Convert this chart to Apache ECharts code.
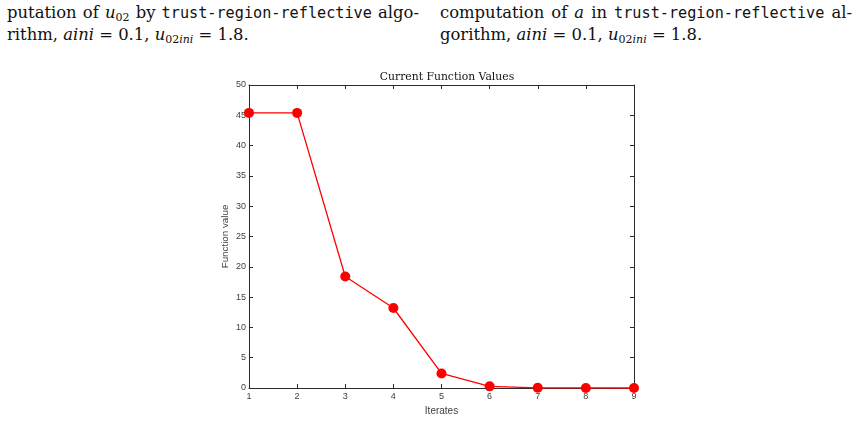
<!DOCTYPE html>
<html>
<head>
<meta charset="utf-8">
<script src="https://cdn.jsdelivr.net/npm/echarts@6/dist/echarts.min.js"></script>
<style>
  html, body { margin: 0; padding: 0; background: #fff; }
  .page { position: relative; width: 862px; height: 421px; overflow: hidden; }
  .col { position: absolute; top: 2px; width: 412px; font-family: "DejaVu Serif", "Liberation Serif", serif; font-size: 16.4px; line-height: 21px; color: #111; }
  .col .l1 { text-align: justify; text-align-last: justify; white-space: nowrap; }
  .col tt { font-family: "DejaVu Sans Mono", "Liberation Mono", monospace; font-size: 15.2px; }
  .col i { font-style: italic; }
  .col sub { font-size: 11px; vertical-align: -3px; line-height: 0; }
  #myEchart { position: absolute; left: 0; top: 0; width: 862px; height: 421px; }
</style>
</head>
<body>
<div class="page">
  <div class="col" style="left:7px;"><div class="l1">putation of <i>u</i><sub>02</sub> by <tt>trust-region-reflective</tt> algo-</div><div>rithm, <i>aini</i> = 0.1, <i>u</i><sub>02<i>ini</i></sub> = 1.8.</div></div>
  <div class="col" style="left:440px;"><div class="l1">computation of <i>a</i> in <tt>trust-region-reflective</tt> al-</div><div>gorithm, <i>aini</i> = 0.1, <i>u</i><sub>02<i>ini</i></sub> = 1.8.</div></div>
  <div id="myEchart"></div>
</div>
<script>
  // 数据
  var iterates = [1, 2, 3, 4, 5, 6, 7, 8, 9];
  var funcValues = [45.4, 45.4, 18.4, 13.2, 2.4, 0.27, 0.03, 0.01, 0.0];

  var myEchart = echarts.init(document.getElementById('myEchart'));

  var axisColor = '#2b2b2b';
  var labelColor = '#404040';

  var pts = iterates.map(function (x, i) { return [x, funcValues[i]]; });

  var option = {
    animation: false,
    backgroundColor: 'transparent',
    title: {
      text: 'Current Function Values',
      left: 442,
      top: 67,
      textAlign: 'center',
      textStyle: { fontFamily: 'DejaVu Serif', fontWeight: 'normal', fontSize: 10.8, color: '#111' }
    },
    grid: { left: 249, right: 228, top: 85, bottom: 33 },
    xAxis: [
      {
        type: 'value', min: 1, max: 9, interval: 1, position: 'bottom',
        name: 'Iterates', nameLocation: 'middle', nameGap: 18,
        nameTextStyle: { fontFamily: 'Liberation Sans', fontSize: 10, color: labelColor },
        axisLine: { onZero: false, lineStyle: { color: axisColor, width: 1 } },
        axisTick: { inside: true, length: 4, lineStyle: { color: axisColor } },
        axisLabel: { fontFamily: 'Liberation Sans', fontSize: 9, color: labelColor, margin: 4 },
        splitLine: { show: false }
      },
      {
        type: 'value', min: 1, max: 9, interval: 1, position: 'top',
        axisLine: { onZero: false, lineStyle: { color: axisColor, width: 1 } },
        axisTick: { inside: true, length: 4, lineStyle: { color: axisColor } },
        axisLabel: { show: false },
        splitLine: { show: false }
      }
    ],
    yAxis: [
      {
        type: 'value', min: 0, max: 50, interval: 5, position: 'left',
        name: 'Function value', nameLocation: 'middle', nameGap: 19, nameRotate: 90,
        nameTextStyle: { fontFamily: 'Liberation Sans', fontSize: 9.8, color: labelColor },
        axisLine: { show: true, onZero: false, lineStyle: { color: axisColor, width: 1 } },
        axisTick: { show: true, inside: true, length: 4, lineStyle: { color: axisColor } },
        axisLabel: { fontFamily: 'Liberation Sans', fontSize: 9, color: labelColor, margin: 3 },
        splitLine: { show: false }
      },
      {
        type: 'value', min: 0, max: 50, interval: 5, position: 'right',
        axisLine: { show: true, onZero: false, lineStyle: { color: axisColor, width: 1 } },
        axisTick: { show: true, inside: true, length: 4, lineStyle: { color: axisColor } },
        axisLabel: { show: false },
        splitLine: { show: false }
      }
    ],
    series: [
      {
        type: 'line',
        data: pts,
        xAxisIndex: 0,
        yAxisIndex: 0,
        symbol: 'circle',
        symbolSize: 10,
        lineStyle: { color: '#ff0000', width: 1.3 },
        itemStyle: { color: '#ff0000' },
        clip: false
      }
    ]
  };

  myEchart.setOption(option);
</script>
</body>
</html>
